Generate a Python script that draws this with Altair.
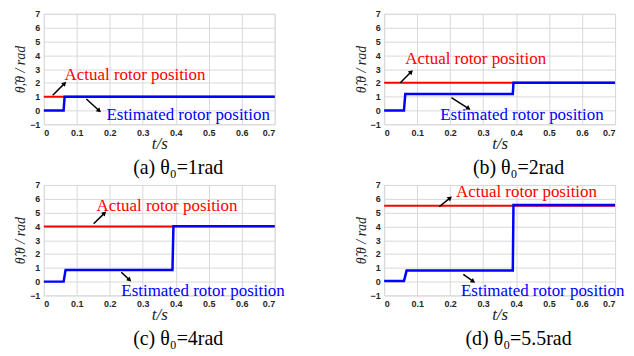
import math
import altair as alt
import pandas as pd

# ---- data ----
panels = ["a", "b", "c", "d"]
captions = ["(a) θ₀=1rad", "(b) θ₀=2rad", "(c) θ₀=4rad", "(d) θ₀=5.5rad"]

actual_t = [0.0, 0.7]
actual_values = [1.0, 2.0, 4.0, 5.5]

est_t = {
    "a": [0.0, 0.060, 0.063, 0.7],
    "b": [0.0, 0.060, 0.064, 0.390, 0.392, 0.7],
    "c": [0.0, 0.060, 0.066, 0.390, 0.393, 0.7],
    "d": [0.0, 0.060, 0.068, 0.390, 0.392, 0.7],
}
est_v = {
    "a": [0.0, 0.0, 1.0, 1.0],
    "b": [0.0, 0.0, 1.2, 1.2, 2.0, 2.0],
    "c": [0.0, 0.0, 0.85, 0.85, 4.02, 4.02],
    "d": [0.05, 0.05, 0.8, 0.8, 5.55, 5.55],
}

# annotation text anchors (left edge, vertical centre)
act_label_xy = {"a": (0.063, 2.6), "b": (0.064, 3.7), "c": (0.16, 5.5), "d": (0.218, 6.5)}
est_label_xy = {"a": (0.19, -0.3), "b": (0.17, -0.36), "c": (0.235, -0.65), "d": (0.233, -0.7)}

# arrows: (x_start, y_start, x_end, y_end)
act_arrow = {"a": (0.027, 1.1, 0.063, 1.96), "b": (0.049, 2.0, 0.082, 2.8),
             "c": (0.151, 4.19, 0.184, 4.96), "d": (0.167, 5.42, 0.2, 6.06)}
est_arrow = {"a": (0.129, 0.83, 0.168, -0.02), "b": (0.204, 0.93, 0.256, 0.14),
             "c": (0.235, 0.68, 0.26, 0.12), "d": (0.24, 0.53, 0.27, 0.02)}

x_ticks = [0, 0.1, 0.2, 0.3, 0.4, 0.5, 0.6, 0.7]
y_ticks = [-1, 0, 1, 2, 3, 4, 5, 6, 7]

W, H = 232, 111
XMAX, YMIN, YMAX = 0.7, -1, 7

label_font = "Liberation Sans"
serif = "Times New Roman"

xscale = alt.Scale(domain=[0, XMAX], nice=False, zero=False)
yscale = alt.Scale(domain=[YMIN, YMAX], nice=False, zero=False)

xax = alt.Axis(values=x_ticks, format="~g", title="t/s", titleFont=serif,
               titleFontStyle="italic", titleFontWeight="normal", titleFontSize=17,
               titleColor="#222", titlePadding=-2, labelFont=label_font,
               labelFontWeight="bold", labelFontSize=9, labelColor="#262626",
               labelPadding=4, labelOverlap=False, ticks=False, domain=False,
               gridColor="#d9d9d9", gridOpacity=1)
yax = alt.Axis(values=y_ticks, format="~g", title="θ̂,θ / rad", titleFont=serif,
               titleFontStyle="italic", titleFontWeight="normal", titleFontSize=14,
               titleColor="#222", titlePadding=2, labelFont=label_font,
               labelFontWeight="bold", labelFontSize=9, labelColor="#262626",
               labelPadding=4, labelOverlap=False, ticks=False, domain=False,
               gridColor="#d9d9d9", gridOpacity=1)


def X(f):
    return alt.X(f, scale=xscale, axis=xax)


def Y(f):
    return alt.Y(f, scale=yscale, axis=yax)


def panel(i):
    p = panels[i]
    ad = pd.DataFrame({"t": actual_t, "v": [actual_values[i]] * len(actual_t)})
    ed = pd.DataFrame({"t": est_t[p], "v": est_v[p]})

    red = alt.Chart(ad).mark_line(color="#ff0000", strokeWidth=2).encode(
        x=X("t:Q"), y=Y("v:Q"))
    blue = alt.Chart(ed).mark_line(color="#0000ff", strokeWidth=2.5).encode(
        x=X("t:Q"), y=Y("v:Q"))

    tx = pd.DataFrame({
        "t": [act_label_xy[p][0], est_label_xy[p][0]],
        "v": [act_label_xy[p][1], est_label_xy[p][1]],
        "label": ["Actual rotor position", "Estimated rotor position"],
        "col": ["#ff0000", "#0000ff"],
    })
    texts = alt.Chart(tx).mark_text(font=serif, fontSize=17, align="left",
                                    baseline="middle").encode(
        x=X("t:Q"), y=Y("v:Q"),
        text="label:N", color=alt.Color("col:N", scale=None)
    )

    rows = []
    for (x0, y0, x1, y1) in (act_arrow[p], est_arrow[p]):
        dxp = (x1 - x0) / XMAX * W
        dyp = -(y1 - y0) / (YMAX - YMIN) * H
        ang = math.degrees(math.atan2(dxp, -dyp)) % 360
        rows.append({"t": x0, "v": y0, "t1": x1, "v1": y1, "ang": ang})
    ar = pd.DataFrame(rows)
    shafts = alt.Chart(ar).mark_rule(color="black", strokeWidth=1.5).encode(
        x=X("t:Q"), y=Y("v:Q"), x2="t1:Q", y2="v1:Q"
    )
    heads = alt.Chart(ar).mark_point(shape="triangle-up", filled=True, color="black",
                                     size=28, opacity=1).encode(
        x=X("t1:Q"), y=Y("v1:Q"),
        angle=alt.Angle("ang:Q", scale=None)
    )

    return alt.layer(red, blue, shafts, heads, texts).properties(
        width=W, height=H,
        title=alt.TitleParams(captions[i], orient="bottom", font=serif, fontSize=20,
                              fontWeight="normal", color="black", anchor="middle",
                              frame="group", dx=19, offset=7),
    )


chart = alt.concat(*[panel(i) for i in range(4)], columns=2,
                   spacing={"row": 61, "column": 110}, bounds="flush").properties(
    padding={"left": 5, "top": 0, "right": 0, "bottom": 0}
).configure_view(stroke="#a0a0a0", strokeWidth=1).configure_axis(
    labelOverlap=False
).configure(background="white")

chart.save("out.html", embed_options={"renderer": "svg", "actions": False})
